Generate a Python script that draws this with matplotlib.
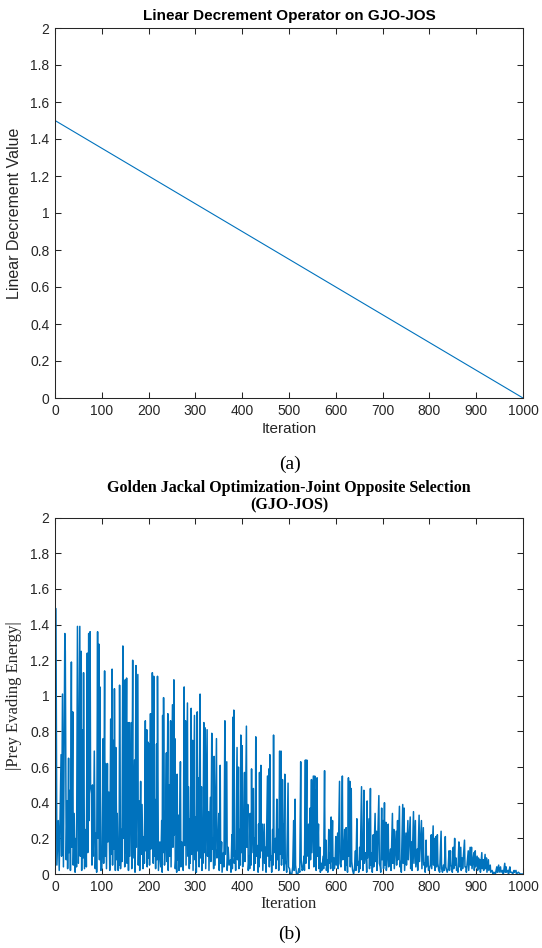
import matplotlib as mpl
mpl.use('Agg')
import matplotlib.pyplot as plt
import numpy as np

# ---- data ----
# (a) linear decrement operator
lin_iter = [0, 1000]
lin_val = [1.5, 0.0]

# (b) |prey evading energy|, vertices (iteration, value) read per segment
seg_0_200 = [(0,0.45),(2,1.49),(4,0.05),(7,0.30),(9,0.02),(13,0.67),(14,0.10),(16,1.01),(18,0.04),(21,1.35),
    (22,1.25),(24,0.08),(26,0.41),(27,0.03),(29,0.65),(30,0.12),(32,0.47),(33,0.02),(35,1.19),(36,0.15),
    (38,0.91),(39,0.05),(41,0.34),(43,0.01),(45,0.20),(46,0.04),(48,1.39),(50,0.06),(53,1.39),(54,0.10),
    (56,1.25),(57,0.02),(58,0.81),(60,0.09),(61,1.13),(63,0.03),(66,0.25),(67,0.04),(69,1.24),(70,0.12),
    (72,1.35),(73,0.30),(75,1.36),(76,0.49),(78,0.45),(79,0.05),(80,0.50),(82,0.10),(84,0.69),(86,0.03),
    (88,0.23),(89,0.01),(91,1.36),(92,0.20),(94,1.29),(95,0.08),(96,1.05),(98,0.02),(100,0.03),(101,0.15),
    (103,0.76),(104,0.06),(106,1.14),(107,0.10),(108,0.62),(110,0.03),(112,0.62),(113,0.18),(115,0.46),(117,0.02),
    (119,0.87),(120,0.11),(122,1.15),(123,0.05),(125,0.75),(126,0.14),(127,1.04),(129,0.02),(130,0.71),(132,0.08),
    (133,0.34),(135,0.02),(136,0.18),(137,0.05),(138,1.06),(140,0.03),(142,0.25),(143,0.07),(145,1.28),(146,0.20),
    (147,1.01),(149,0.04),(150,1.09),(151,0.12),(153,1.10),(154,0.06),(156,0.85),(157,0.02),(159,0.85),(160,0.10),
    (163,0.85),(164,0.03),(166,1.20),(167,0.09),(170,0.64),(171,0.01),(173,1.17),(174,0.15),(177,1.12),(178,0.05),
    (180,0.41),(181,0.02),(183,0.52),(184,0.11),(186,0.39),(188,0.03),(190,0.21),(191,0.06),(193,0.86),(194,0.13),
    (196,0.81),(197,0.04),(199,0.74),(200,0.09)]
seg_200_400 = [(201,0.73),(202,0.05),(204,0.90),(205,0.14),(207,0.40),(208,1.13),(210,0.06),(211,1.11),(212,0.10),
    (213,0.42),(215,0.03),(217,0.73),(218,0.08),(219,1.11),(221,0.02),(224,0.18),(226,0.04),(228,0.30),(229,0.01),
    (230,0.89),(231,0.12),(232,0.99),(234,0.05),(236,0.20),(238,0.68),(239,0.07),(241,0.90),(242,0.02),(244,0.50),
    (245,0.10),(247,0.86),(248,0.04),(251,0.95),(252,0.15),(254,1.09),(255,0.22),(256,0.76),(257,0.03),(259,0.13),
    (260,0.01),(261,0.56),(262,0.08),(264,0.33),(265,0.02),(266,0.15),(268,0.63),(269,0.04),(271,0.18),(273,0.13),
    (274,0.02),(276,1.05),(277,0.16),(279,0.86),(280,0.05),(283,0.96),(284,0.10),(285,0.49),(287,0.03),(288,0.31),
    (289,0.06),(291,0.93),(292,0.11),(294,0.75),(295,0.02),(298,0.89),(299,0.08),(300,0.32),(302,0.01),(304,0.91),
    (305,0.13),(306,0.54),(308,0.04),(310,1.01),(311,0.09),(313,0.49),(314,0.02),(315,0.21),(316,0.06),(318,0.85),
    (319,0.12),(321,0.82),(322,0.03),(325,0.81),(326,0.10),(328,0.35),(329,0.02),(332,0.43),(333,0.07),(335,0.79),
    (336,0.14),(338,0.20),(339,0.03),(340,0.66),(342,0.05),(344,0.52),(345,0.76),(346,0.09),(348,0.15),(350,0.34),
    (351,0.02),(353,0.61),(354,0.06),(356,0.18),(357,0.01),(360,0.12),(361,0.04),(363,0.86),(364,0.11),(367,0.63),
    (368,0.02),(370,0.15),(372,0.05),(375,0.08),(376,0.01),(378,0.22),(379,0.03),(380,0.88),(381,0.10),(382,0.92),
    (383,0.06),(385,0.13),(386,0.02),(389,0.71),(390,0.08),(392,0.60),(393,0.03),(395,0.25),(396,0.05),(397,0.78),
    (398,0.12),(400,0.72)]
seg_400_600 = [(401,0.04),(403,0.20),(405,0.57),(406,0.07),(409,0.83),(410,0.15),(412,0.39),(413,0.02),(415,0.10),
    (416,0.03),(417,0.34),(419,0.05),(420,0.59),(421,0.12),(424,0.48),(425,0.02),(426,0.20),(428,0.06),(429,0.77),
    (430,0.10),(433,0.16),(434,0.01),(435,0.28),(436,0.04),(437,0.57),(438,0.09),(440,0.61),(441,0.13),(443,0.28),
    (444,0.02),(447,0.28),(448,0.06),(450,0.15),(451,0.01),(454,0.55),(455,0.10),(457,0.59),(458,0.04),(459,0.67),
    (460,0.08),(462,0.10),(463,0.01),(465,0.25),(466,0.05),(467,0.78),(468,0.12),(471,0.20),(472,0.03),(474,0.42),
    (475,0.08),(477,0.25),(478,0.02),(480,0.69),(481,0.11),(483,0.69),(484,0.05),(486,0.53),(487,0.09),(488,0.28),
    (489,0.02),(491,0.56),(492,0.07),(494,0.05),(495,0.01),(498,0.51),(499,0.04),(501,0.03),(503,0.00),(506,0.00),
    (508,0.04),(510,0.30),(511,0.02),(513,0.42),(514,0.05),(516,0.00),(519,0.00),(521,0.03),(523,0.01),(525,0.63),
    (526,0.08),(528,0.02),(530,0.03),(532,0.10),(533,0.02),(535,0.64),(536,0.06),(538,0.64),(539,0.10),(542,0.28),
    (543,0.03),(545,0.37),(546,0.08),(548,0.53),(549,0.12),(552,0.55),(553,0.04),(555,0.55),(556,0.09),(557,0.47),
    (558,0.02),(560,0.54),(561,0.10),(563,0.28),(564,0.03),(566,0.15),(567,0.01),(569,0.06),(570,0.02),(573,0.10),
    (574,0.03),(576,0.58),(577,0.05),(579,0.19),(580,0.02),(582,0.08),(583,0.01),(585,0.25),(586,0.06),(588,0.12),
    (589,0.03),(590,0.32),(591,0.07),(593,0.30),(594,0.02),(596,0.09),(597,0.03),(599,0.10),(600,0.21)]
seg_600_800 = [(601,0.05),(604,0.23),(605,0.03),(608,0.52),(609,0.06),(611,0.04),(612,0.10),(614,0.55),(615,0.08),
    (617,0.12),(619,0.25),(620,0.02),(622,0.26),(623,0.05),(624,0.09),(625,0.01),(627,0.54),(628,0.10),(630,0.52),
    (631,0.04),(633,0.48),(634,0.07),(636,0.02),(638,0.00),(640,0.03),(642,0.13),(643,0.02),(645,0.31),(646,0.05),
    (648,0.07),(649,0.01),(651,0.15),(652,0.03),(655,0.49),(656,0.08),(657,0.20),(658,0.02),(660,0.47),(661,0.06),
    (663,0.12),(665,0.10),(666,0.01),(667,0.41),(668,0.09),(671,0.31),(672,0.03),(674,0.48),(675,0.05),(677,0.12),
    (678,0.01),(680,0.22),(681,0.04),(684,0.34),(685,0.07),(687,0.24),(688,0.02),(692,0.44),(693,0.06),(695,0.04),
    (696,0.01),(698,0.37),(699,0.08),(701,0.30),(702,0.03),(704,0.40),(705,0.05),(707,0.29),(708,0.02),(710,0.10),
    (712,0.28),(713,0.04),(715,0.08),(717,0.14),(718,0.02),(721,0.34),(722,0.06),(724,0.25),(725,0.03),(729,0.24),
    (730,0.05),(732,0.30),(733,0.08),(736,0.38),(737,0.04),(739,0.07),(740,0.01),(743,0.39),(744,0.06),(746,0.37),
    (747,0.02),(750,0.23),(751,0.05),(754,0.30),(755,0.08),(759,0.32),(760,0.03),(762,0.18),(763,0.02),(766,0.35),
    (767,0.06),(770,0.30),(771,0.04),(774,0.14),(775,0.02),(778,0.33),(779,0.07),(783,0.30),(784,0.03),(787,0.26),
    (788,0.05),(790,0.06),(791,0.01),(793,0.19),(794,0.04),(797,0.10),(798,0.02),(800,0.03)]
seg_800_1000 = [(802,0.05),(804,0.22),(805,0.03),(808,0.27),(809,0.05),(811,0.20),(812,0.02),(814,0.21),(815,0.04),
    (817,0.22),(818,0.06),(820,0.02),(822,0.01),(825,0.24),(826,0.03),(828,0.01),(830,0.05),(832,0.02),(834,0.21),
    (835,0.04),(838,0.01),(840,0.03),(842,0.13),(843,0.02),(845,0.13),(846,0.05),(848,0.04),(849,0.01),(851,0.15),
    (852,0.03),(854,0.20),(855,0.05),(857,0.09),(858,0.02),(860,0.03),(861,0.01),(863,0.18),(864,0.04),(867,0.15),
    (868,0.02),(870,0.09),(871,0.03),(875,0.19),(876,0.04),(878,0.04),(879,0.01),(883,0.13),(884,0.02),(887,0.15),
    (888,0.05),(890,0.15),(891,0.03),(895,0.12),(896,0.02),(898,0.13),(899,0.04),(902,0.10),(903,0.02),(905,0.09),
    (906,0.03),(908,0.08),(909,0.01),(912,0.12),(913,0.03),(915,0.08),(916,0.02),(919,0.11),(920,0.03),(922,0.09),
    (923,0.01),(926,0.08),(927,0.02),(930,0.05),(931,0.01),(934,0.02),(936,0.00),(938,0.01),(941,0.00),(944,0.04),
    (945,0.01),(948,0.05),(949,0.01),(952,0.04),(953,0.01),(956,0.02),(958,0.00),(961,0.06),(962,0.01),(964,0.04),
    (965,0.01),(968,0.02),(969,0.00),(972,0.04),(973,0.01),(976,0.01),(978,0.00),(981,0.02),(982,0.01),(985,0.02),
    (986,0.00),(990,0.01),(994,0.00),(1000,0.00)]

x_ticks = [0, 100, 200, 300, 400, 500, 600, 700, 800, 900, 1000]
y_ticks = [0, 0.2, 0.4, 0.6, 0.8, 1, 1.2, 1.4, 1.6, 1.8, 2]
y_ticklabels = ['0', '0.2', '0.4', '0.6', '0.8', '1', '1.2', '1.4', '1.6', '1.8', '2']

matlab_blue = '#0072BD'
axis_gray = '#262626'
sans = ['Liberation Sans', 'DejaVu Sans']
serif = ['Liberation Serif', 'DejaVu Serif']

fig = plt.figure(figsize=(5.42, 9.48), dpi=100)
W, H = 542.0, 948.0

def style_axes(ax):
    ax.set_xlim(0, 1000)
    ax.set_ylim(0, 2)
    ax.set_xticks(x_ticks)
    ax.set_xticklabels([str(t) for t in x_ticks])
    ax.set_yticks(y_ticks)
    ax.set_yticklabels(y_ticklabels)
    for sp in ax.spines.values():
        sp.set_color(axis_gray)
        sp.set_linewidth(0.75)
    ax.tick_params(direction='in', length=4, width=0.75, color=axis_gray,
                   labelcolor=axis_gray, labelsize=10, top=True, right=True, pad=4)
    for lab in ax.get_xticklabels() + ax.get_yticklabels():
        lab.set_family(sans)

# (a)
ax1 = fig.add_axes([55/W, 1 - 398/H, 468/W, 370/H])
ax1.plot(lin_iter, lin_val, color=matlab_blue, lw=0.8)
style_axes(ax1)
ax1.set_title('Linear Decrement Operator on GJO-JOS', family=sans, fontsize=11,
              fontweight='bold', color='black', pad=6)
ax1.set_xlabel('Iteration', family=sans, fontsize=11, color=axis_gray, labelpad=3)
ax1.set_ylabel('Linear Decrement Value', family=sans, fontsize=11.5, color=axis_gray, labelpad=6)
fig.text(290/W, 1 - 464/H, '(a)', family=serif, fontsize=14, ha='center', va='center')

# (b)
pts = seg_0_200 + seg_200_400 + seg_400_600 + seg_600_800 + seg_800_1000
b_iter = [p[0] for p in pts]
b_val = [p[1] for p in pts]
ax2 = fig.add_axes([55/W, 1 - 874/H, 468/W, 356.3/H])
ax2.plot(b_iter, b_val, color=matlab_blue, lw=1.1)
style_axes(ax2)
ax2.set_title('Golden Jackal Optimization-Joint Opposite Selection\n(GJO-JOS)', family=serif,
              fontsize=11.5, fontweight='bold', color='black', pad=6, linespacing=1.1)
ax2.set_xlabel('Iteration', family=serif, fontsize=12, color=axis_gray, labelpad=2)
ax2.set_ylabel('|Prey Evading Energy|', family=serif, fontsize=12, color=axis_gray, labelpad=6)
fig.text(290/W, 1 - 934/H, '(b)', family=serif, fontsize=14, ha='center', va='center')

fig.savefig('out.png', dpi=100)
